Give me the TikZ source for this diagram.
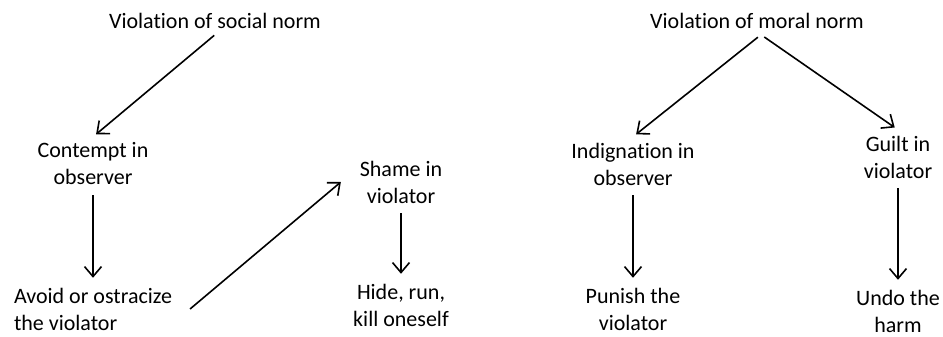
\documentclass[tikz,border=0pt]{standalone}
\usepackage{fontspec}
\setmainfont{Carlito}[Ligatures=NoCommon, Contextuals=NoAlternate]
\usepackage{tikz}
\usetikzlibrary{arrows.meta}
\usetikzlibrary{positioning}
\tikzset{>={Straight Barb[length=10pt,width=17pt]}, font=\fontsize{22}{27}\selectfont}
\tikzstyle{label} = [align=center, inner sep=6pt, outer sep=0pt]
\tikzstyle{flow} = [->, line width=1.6pt, shorten <=4pt, shorten >=4pt]

\begin{document}
\begin{tikzpicture}[x=1pt, y=-1pt]
		\useasboundingbox (0,0) rectangle (943,337);

		% social norm side
		\node [label] at (215,21) (social) {Violation of social norm};
		\node [label] at (93,164) (contempt) {Contempt in\\observer};
		\node [label, align=left, anchor=west] at (8,309) (avoid) {Avoid or ostracize\\the violator};
		\node [label] at (401,182) (shame) {Shame in\\violator};
		\node [label] at (401,305) (hide) {Hide, run,\\kill oneself};

		% moral norm side
		\node [label] at (757,21) (moral) {Violation of moral norm};
		\node [label] at (633,164) (indig) {Indignation in\\observer};
		\node [label] at (633,309) (punish) {Punish the\\violator};
		\node [label] at (898,157) (guilt) {Guilt in\\violator};
		\node [label] at (898,311) (undo) {Undo the\\harm};

		\draw [flow, shorten <=1pt] (social.south) -- (contempt.north);
		\draw [flow] (contempt) -- (contempt |- avoid.north);
		\draw [flow, shorten <=0pt, shorten >=0pt] ([xshift=12pt]avoid.east) -- ([xshift=-13pt]shame.west);
		\draw [flow] (shame) -- (hide);

		\draw [flow] ([xshift=4pt]moral.south) -- (indig.north);
		\draw [flow] ([xshift=4pt]moral.south) -- (guilt.north);
		\draw [flow] (indig) -- (punish);
		\draw [flow] (guilt) -- (undo);

	\end{tikzpicture}
\end{document}
